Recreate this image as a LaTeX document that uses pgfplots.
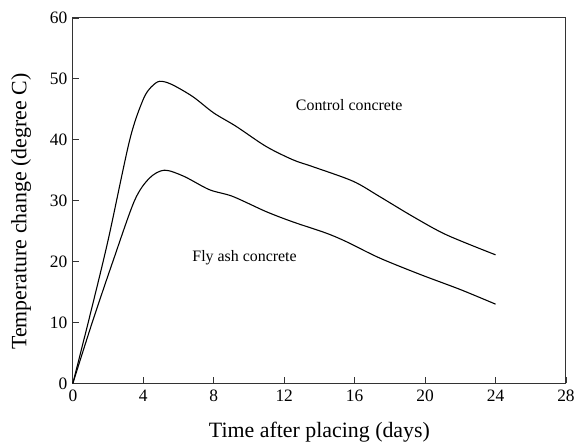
\documentclass[border=0pt]{standalone}
\usepackage{pgfplots}
\pgfplotsset{compat=1.18}
\usepackage{fontspec}
\setmainfont{Liberation Serif}
\begin{document}
\begin{tikzpicture}
\begin{axis}[
  scale only axis,
  width=494bp, height=366bp,
  xmin=0, xmax=28, ymin=0, ymax=60,
  xtick={0,4,...,28}, ytick={0,10,...,60},
  xtick pos=bottom, ytick pos=left,
  tick align=inside,
  major tick length=6bp,
  axis line style={line width=1pt, black!80},
  every tick/.style={black!80, line width=0.8pt},
  /pgf/number format/assume math mode=true,
  tick label style={font=\fontsize{17.5}{17.5}\selectfont},
  yticklabel style={xshift=-2bp},
  xticklabel style={yshift=-3bp},
  xlabel={Time after placing (days)},
  ylabel={Temperature change (degree C)},
  xlabel style={font=\fontsize{22}{22}\selectfont, at={(axis description cs:0.5,-0.134)}, anchor=center},
  ylabel style={font=\fontsize{22}{22}\selectfont, at={(axis description cs:-0.105,0.47)}, anchor=center},
  clip=false,
]
\addplot[black, line width=1.1pt, smooth, tension=0.5] coordinates {
(0,0) (1,11.5) (2,23.5) (3.23,40) (3.99,46.6) (4.46,48.7) (4.93,49.6) (5.6,49.1) (6.8,47.1) (8.0,44.4) (9.27,42.2) (10.97,38.9) (12.5,36.7) (13.6,35.6) (15.9,33.2) (17.4,30.7) (19.3,27.4) (21.2,24.4) (24.0,21.1)
};
\addplot[black, line width=1.1pt, smooth, tension=0.5] coordinates {
(0,0) (1.1,10) (2.27,20) (3.5,30) (4.35,33.7) (5.2,35.0) (6.3,34.0) (7.75,31.8) (9.07,30.7) (10.97,28.2) (12.5,26.5) (14.35,24.7) (15.5,23.3) (17.4,20.6) (19.7,17.9) (22,15.4) (24.0,13.0)
};
\node[font=\fontsize{16}{16}\selectfont] at (axis cs:15.69,45.7) {Control concrete};
\node[font=\fontsize{16}{16}\selectfont] at (axis cs:9.75,20.65) {Fly ash concrete};
\path (rel axis cs:0,1) ++(-73bp,18bp) coordinate (tl);
\path (rel axis cs:1,0) ++(11bp,-58bp) coordinate (br);
\path (tl) (br);
\end{axis}
\end{tikzpicture}
\end{document}
